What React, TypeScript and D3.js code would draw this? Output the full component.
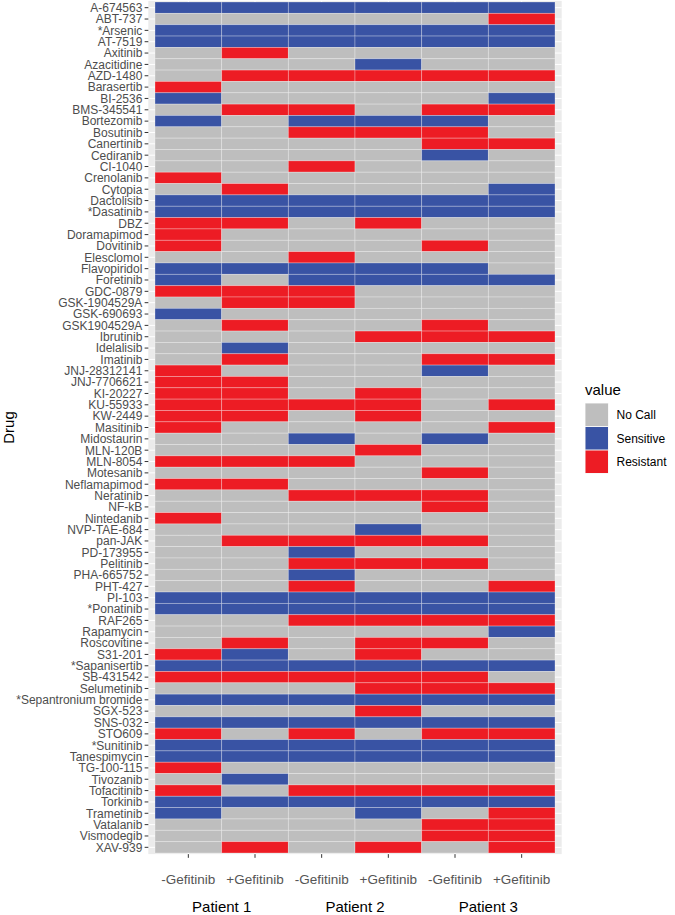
import React from "react";
import * as d3 from "d3";

const drugs = [
  "A-674563","ABT-737","*Arsenic","AT-7519","Axitinib","Azacitidine","AZD-1480","Barasertib","BI-2536","BMS-345541",
  "Bortezomib","Bosutinib","Canertinib","Cediranib","CI-1040","Crenolanib","Cytopia","Dactolisib","*Dasatinib","DBZ",
  "Doramapimod","Dovitinib","Elesclomol","Flavopiridol","Foretinib","GDC-0879","GSK-1904529A","GSK-690693","GSK1904529A","Ibrutinib",
  "Idelalisib","Imatinib","JNJ-28312141","JNJ-7706621","KI-20227","KU-55933","KW-2449","Masitinib","Midostaurin","MLN-120B",
  "MLN-8054","Motesanib","Neflamapimod","Neratinib","NF-kB","Nintedanib","NVP-TAE-684","pan-JAK","PD-173955","Pelitinib",
  "PHA-665752","PHT-427","PI-103","*Ponatinib","RAF265","Rapamycin","Roscovitine","S31-201","*Sapanisertib","SB-431542",
  "Selumetinib","*Sepantronium bromide","SGX-523","SNS-032","STO609","*Sunitinib","Tanespimycin","TG-100-115","Tivozanib","Tofacitinib",
  "Torkinib","Trametinib","Vatalanib","Vismodegib","XAV-939",
];

// N = No Call, S = Sensitive, R = Resistant; order: P1-, P1+, P2-, P2+, P3-, P3+
const calls = [
  "SSSSSS","NNNNNR","SSSSSS","SSSSSS","NRNNNN","NNNSNN","NRRRRR","RNNNNN","SNNNNS","NRRNRR",
  "SNSSSN","NNRRRN","NNNNRR","NNNNSN","NNRNNN","RNNNNN","NRNNNS","SSSSSS","SSSSSS","RRNRNN",
  "RNNNNN","RNNNRN","NNRNNN","SSSSSN","SNSSSS","RRRNNN","NRRNNN","SNNNNN","NRNNRN","NNNRRR",
  "NSNNNN","NRNNRR","RNNNSN","RRNNNN","RRNRNN","RRRRNR","RRNRNN","RNNNNR","NNSNSN","NNNRNN",
  "RRRNNN","NNNNRN","RRNNNN","NNRRRN","NNNNRN","RNNNNN","NNNSNN","NRRRRN","NNSNNN","NNRRRN",
  "NNSNNN","NNRNNR","SSSSSS","SSSSSS","NNRRRR","NNNNNS","NRNRRN","RSNRNN","SSSSSS","RRRRRN",
  "NNNRRR","SSSSSS","NNNRNN","SSSSSS","RNRNRR","SSSSSS","SSSSSS","RNNNNN","NSNNNN","RNRRRR",
  "SSSSSS","SNNSNR","NNNNRR","NNNNRR","NRNRNR",
];

const conditions = ["P1-", "P1+", "P2-", "P2+", "P3-", "P3+"];
const conditionLabels = ["-Gefitinib", "+Gefitinib", "-Gefitinib", "+Gefitinib", "-Gefitinib", "+Gefitinib"];
const patients = ["Patient 1", "Patient 2", "Patient 3"];
const valueCodes = ["N", "S", "R"];
const valueLabels = ["No Call", "Sensitive", "Resistant"];
const valueColors = ["#BEBEBE", "#3953A4", "#ED1C24"];

const W = 675;
const H = 915;

export default function App() {
  const x = d3.scaleBand<string>().domain(conditions).range([155, 555]).padding(0);
  const y = d3.scaleBand<string>().domain(drugs).range([2, 853]).padding(0);
  const color = d3.scaleOrdinal<string, string>().domain(valueCodes).range(valueColors);

  const bw = x.bandwidth();
  const bh = y.bandwidth();
  const panelX0 = 155 - 0.1 * bw;
  const panelX1 = 555 + 0.1 * bw;
  const panelY0 = 2 - 0.1 * bh;
  const panelY1 = 853 + 0.1 * bh;

  const cells: { d: string; c: string; v: string }[] = [];
  drugs.forEach((d, i) => {
    conditions.forEach((c, j) => {
      cells.push({ d, c, v: calls[i][j] });
    });
  });

  const font = "'Liberation Sans', Arial, Helvetica, sans-serif";
  const legendX = 585;
  const keyH = 23.5;
  const legendY0 = 403;

  return (
    <svg
      width={W}
      height={H}
      style={{ position: "absolute", left: 0, top: 0, background: "#fff" }}
      fontFamily={font}
    >
      <rect x={panelX0} y={panelY0} width={panelX1 - panelX0} height={panelY1 - panelY0} fill="#EBEBEB" />
      {drugs.map((d) => (
        <line key={"gy" + d} x1={panelX0} x2={panelX1} y1={y(d)! + bh / 2} y2={y(d)! + bh / 2} stroke="#fff" strokeWidth={1} />
      ))}
      {conditions.map((c) => (
        <line key={"gx" + c} x1={x(c)! + bw / 2} x2={x(c)! + bw / 2} y1={panelY0} y2={panelY1} stroke="#fff" strokeWidth={1} />
      ))}
      {cells.map((cell) => (
        <rect
          key={cell.d + cell.c}
          x={x(cell.c)}
          y={y(cell.d)}
          width={bw}
          height={bh}
          fill={color(cell.v)}
          stroke="#ffffff"
          strokeOpacity={0.35}
          strokeWidth={0.8}
        />
      ))}
      {/* y axis */}
      {drugs.map((d) => (
        <g key={"yl" + d}>
          <line x1={panelX0 - 3.7} x2={panelX0} y1={y(d)! + bh / 2} y2={y(d)! + bh / 2} stroke="#333" strokeWidth={1} />
          <text x={panelX0 - 6} y={y(d)! + bh / 2} dy="0.36em" textAnchor="end" fontSize={12} fill="#4D4D4D">
            {d}
          </text>
        </g>
      ))}
      <text transform={`translate(14,${(panelY0 + panelY1) / 2}) rotate(-90)`} textAnchor="middle" fontSize={15} fill="#000">
        Drug
      </text>
      {/* x axis */}
      {conditions.map((c, i) => (
        <g key={"xl" + c}>
          <line x1={x(c)! + bw / 2} x2={x(c)! + bw / 2} y1={panelY1} y2={panelY1 + 3.7} stroke="#333" strokeWidth={1} />
          <text x={x(c)! + bw / 2} y={879} dy="0.36em" textAnchor="middle" fontSize={13.5} fill="#555">
            {conditionLabels[i]}
          </text>
        </g>
      ))}
      {patients.map((p, i) => {
        const cx = (x(conditions[2 * i])! + x(conditions[2 * i + 1])! + bw) / 2;
        return (
          <text key={p} x={cx} y={907} dy="0.36em" textAnchor="middle" fontSize={15} fill="#000">
            {p}
          </text>
        );
      })}
      {/* legend */}
      <text x={legendX} y={legendY0 - 8} fontSize={15} fill="#000">value</text>
      {valueCodes.map((v, i) => (
        <g key={"lg" + v}>
          <rect x={legendX} y={legendY0 + i * keyH} width={keyH} height={keyH} fill="#F2F2F2" />
          <rect x={legendX + 0.5} y={legendY0 + i * keyH + 0.5} width={keyH - 1} height={keyH - 1} fill={color(v)} />
          <text x={legendX + keyH + 8} y={legendY0 + i * keyH + keyH / 2} dy="0.36em" fontSize={12} fill="#000">
            {valueLabels[i]}
          </text>
        </g>
      ))}
    </svg>
  );
}
